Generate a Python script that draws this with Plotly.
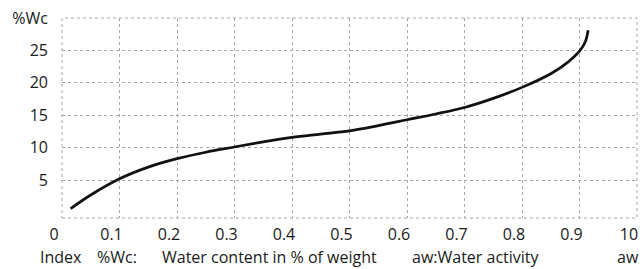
import plotly.graph_objects as go

# Water activity (x) and water content %Wc (y)
aw = [0.015, 0.05, 0.1, 0.15, 0.2, 0.25, 0.3, 0.35, 0.4, 0.45, 0.5, 0.55,
      0.6, 0.65, 0.7, 0.75, 0.8, 0.85, 0.88, 0.9, 0.91, 0.915]
wc = [0.6, 2.7, 5.2, 7.0, 8.3, 9.3, 10.1, 10.9, 11.6, 12.1, 12.6, 13.4,
      14.3, 15.2, 16.2, 17.6, 19.3, 21.4, 23.2, 24.9, 26.3, 28.1]

x_tickvals = [0, 0.1, 0.2, 0.3, 0.4, 0.5, 0.6, 0.7, 0.8, 0.9, 1.0]
x_ticktext = ["0", "0.1", "0.2", "0.3", "0.4", "0.5", "0.6", "0.7", "0.8", "0.9", "10"]
y_tickvals = [5, 10, 15, 20, 25, 30]
y_ticktext = ["5", "10", "15", "20", "25", "%Wc"]

legend_items = ["Index", "%Wc:", "Water content in % of weight", "aw:Water activity", "aw"]
legend_x = [38, 95, 160, 410, 615]

FONT = "Open Sans, Liberation Sans, sans-serif"
GRID = "#a8a8a8"
TXT = "#1a1a1a"

fig = go.Figure()
fig.add_trace(go.Scatter(
    x=aw, y=wc, mode="lines",
    line=dict(color="#111111", width=2.7, shape="spline"),
    hoverinfo="skip", showlegend=False,
))

fig.update_layout(
    width=642, height=269,
    margin=dict(l=62, r=5, t=18, b=51),
    paper_bgcolor="white", plot_bgcolor="white",
    font=dict(family=FONT, size=16, color=TXT),
    showlegend=False,
)
fig.update_xaxes(
    range=[0, 1], tickmode="array", tickvals=x_tickvals, ticktext=x_ticktext,
    showgrid=True, gridcolor=GRID, griddash="dot", gridwidth=1,
    zeroline=False, showline=False, ticks="", ticklabelshift=-8,
    ticklabelstandoff=5, ticklabeloverflow="allow",
)
fig.update_yaxes(
    range=[-0.85, 30], tickmode="array", tickvals=y_tickvals, ticktext=y_ticktext,
    showgrid=True, gridcolor=GRID, griddash="dot", gridwidth=1,
    zeroline=False, showline=False, ticks="", ticklabelstandoff=13,
    ticklabeloverflow="allow",
)
fig.add_shape(type="rect", xref="paper", yref="paper", x0=0, x1=1, y0=0, y1=1,
              line=dict(color=GRID, width=1, dash="dot"), layer="below")

for txt, px in zip(legend_items, legend_x):
    fig.add_annotation(
        text=txt, xref="paper", yref="paper",
        x=(px - 62) / 575, y=-(257 - 218) / 200,
        xanchor="left", yanchor="middle", showarrow=False,
        font=dict(family=FONT, size=16, color=TXT),
    )

fig.write_html(
    "out.html",
    config={"displayModeBar": False},
    post_script="document.body.style.margin='0';document.body.style.overflow='hidden';",
)
